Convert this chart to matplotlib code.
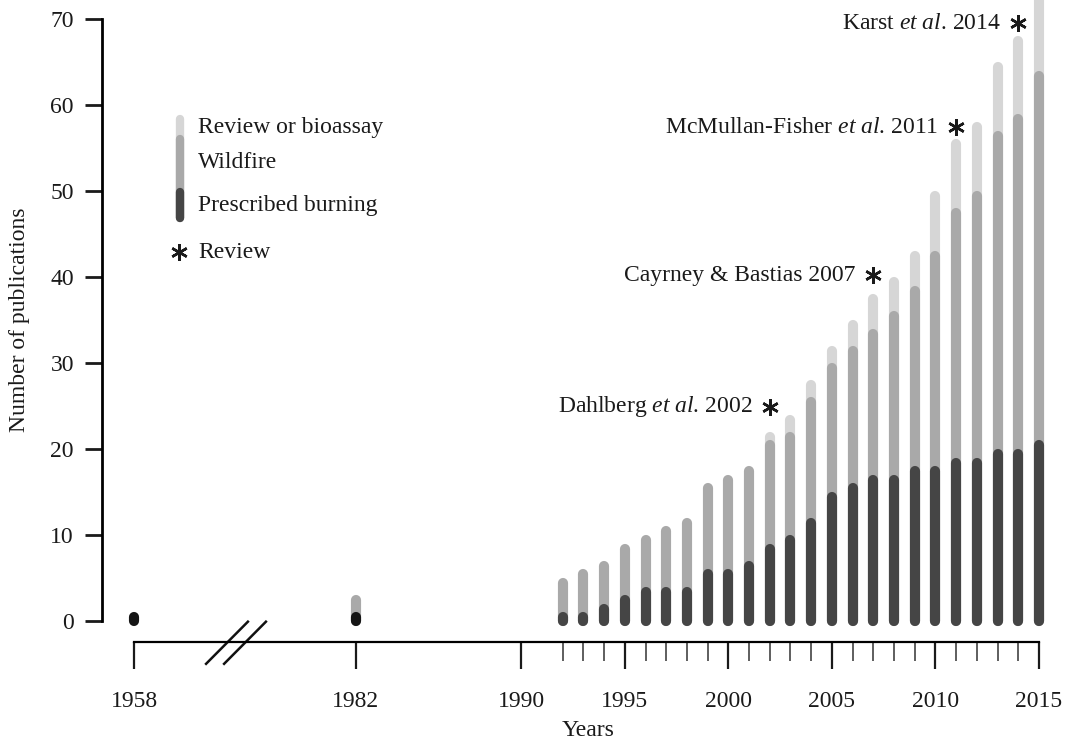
import matplotlib

matplotlib.use("Agg")
import matplotlib.pyplot as plt
import numpy as np

plt.rcParams["font.family"] = ["Liberation Serif", "DejaVu Serif"]
plt.rcParams["mathtext.fontset"] = "custom"
plt.rcParams["mathtext.rm"] = "Liberation Serif"
plt.rcParams["mathtext.it"] = "Liberation Serif:italic"

# publications per year, split by study type
years = np.array([1958, 1982] + list(range(1992, 2016)))
prescribed = np.array([1, 1,
                       1, 1, 2, 3, 4, 4, 4, 6, 6, 7, 9, 10, 12, 15, 16, 17, 17, 18, 18, 19, 19, 20, 20, 21])
wildfire = np.array([0, 2,
                     4, 5, 5, 6, 6, 7, 8, 10, 11, 11, 12, 12, 14, 15, 16, 17, 19, 21, 25, 29, 31, 37, 39, 43])
review = np.array([0, 0,
                   0, 0, 0, 0, 0, 0, 0, 0, 0, 0, 1, 2, 2, 2, 3, 4, 4, 4, 7, 8, 8, 8, 9, 10])

# key reviews marked with an asterisk
review_years = [2002, 2007, 2011, 2014]
review_labels = [r"Dahlberg $\mathit{et\ al}$. 2002",
                 "Cayrney & Bastias 2007",
                 r"McMullan-Fisher $\mathit{et\ al}$. 2011",
                 r"Karst $\mathit{et\ al}$. 2014"]
review_marker_y = [24.9, 40.2, 57.4, 69.5]

major_years = [1958, 1982, 1990, 1995, 2000, 2005, 2010, 2015]
minor_years = [y for y in range(1992, 2015) if y % 5 != 0]

c_dark = "#454545"
c_early = "#151515"
c_mid = "#a9a9a9"
c_light = "#d6d6d6"
BAR_LW = 7.3
ASTERISK = (6, 2, 0)

# the 1958 record sits left of an axis break
BREAK_SHIFT = 13.3


def axis_pos(y):
    y = np.asarray(y, dtype=float)
    return np.where(y < 1980, y + BREAK_SHIFT, y)


fig = plt.figure(figsize=(10.68, 7.42), dpi=100)
left = 101.7 / 1068
ax = fig.add_axes([left, 0, 1 - left, 1])
ax.set_xlim(1969.74, 2016.4)
ax.set_ylim(-14.07, 72.21)

# half the stroke width in data units, so round caps end on the value
cap = BAR_LW / 72 * 100 / 2 / 8.6

x = axis_pos(years)
p_top = prescribed
w_top = prescribed + wildfire
r_top = w_top + review

m = review > 0
lc = ax.vlines(x[m], 0, r_top[m] - cap, color=c_light, lw=BAR_LW)
lc.set_capstyle("round")
m = wildfire > 0
lc = ax.vlines(x[m], 0, w_top[m] - cap, color=c_mid, lw=BAR_LW)
lc.set_capstyle("round")
dark_cols = [c_early if y < 1990 else c_dark for y in years]
lc = ax.vlines(x, 0, p_top - cap, colors=dark_cols, lw=BAR_LW)
lc.set_capstyle("round")

for yr, lab, my in zip(review_years, review_labels, review_marker_y):
    ax.plot([yr], [my], marker=ASTERISK, ms=12, mew=1.8, color="#1a1a1a", ls="none")
    ax.text(yr - 0.85, my, lab, ha="right", va="center", fontsize=17, color="#1a1a1a")

# legend: stacked key bar on the left
kx = 1973.5
k_bot, k_top = 46.4, 58.8
k_mid, k_dark = 56.5, 50.35
k_cap = 6.0 / 72 * 100 / 2 / 8.6
for top, col in [(k_top, c_light), (k_mid, c_mid), (k_dark, c_dark)]:
    ln, = ax.plot([kx, kx], [k_bot + k_cap, top - k_cap], color=col, lw=6.0)
    ln.set_solid_capstyle("round")
for ty, lab in [(57.44, "Review or bioassay"), (53.26, "Wildfire"), (48.37, "Prescribed burning")]:
    ax.text(kx + 0.9, ty, lab, ha="left", va="center", fontsize=17, color="#1a1a1a")
ax.plot([kx - 0.05], [42.9], marker=ASTERISK, ms=12, mew=1.8, color="#1a1a1a", ls="none")
ax.text(kx + 0.9, 42.9, "Review", ha="left", va="center", fontsize=17, color="#1a1a1a")

# axes
for s in ["top", "right"]:
    ax.spines[s].set_visible(False)
ax.spines["left"].set_bounds(0, 70)
ax.spines["left"].set_linewidth(2.0)
ax.spines["bottom"].set_position(("data", -2.48))
ax.spines["bottom"].set_bounds(float(axis_pos(1958)), 2015)
ax.spines["bottom"].set_linewidth(1.6)

ax.set_yticks(range(0, 71, 10))
ax.tick_params(axis="y", length=12, width=2.0, pad=8, labelsize=17, colors="#1a1a1a")
ax.set_xticks(axis_pos(major_years))
ax.set_xticklabels([str(y) for y in major_years])
ax.set_xticks(minor_years, minor=True)
ax.tick_params(axis="x", which="major", length=19.4, width=1.6, pad=16, labelsize=17, colors="#1a1a1a")
ax.tick_params(axis="x", which="minor", length=13.9, width=1.1, colors="#333333")

# axis break marks
for bx in [1975.79, 1976.66]:
    ax.plot([bx - 1.01, bx + 1.01], [-2.48 - 2.5, -2.48 + 2.4], color="#111111", lw=1.8, clip_on=False)

fig.text(20 / 1068, 1 - 320 / 742, "Number of publications", rotation=90, ha="center", va="center",
         fontsize=17, color="#1a1a1a")
fig.text(588 / 1068, 1 - 731 / 742, "Years", ha="center", va="center", fontsize=17, color="#1a1a1a")

fig.savefig("out.png", dpi=100, facecolor="white")
